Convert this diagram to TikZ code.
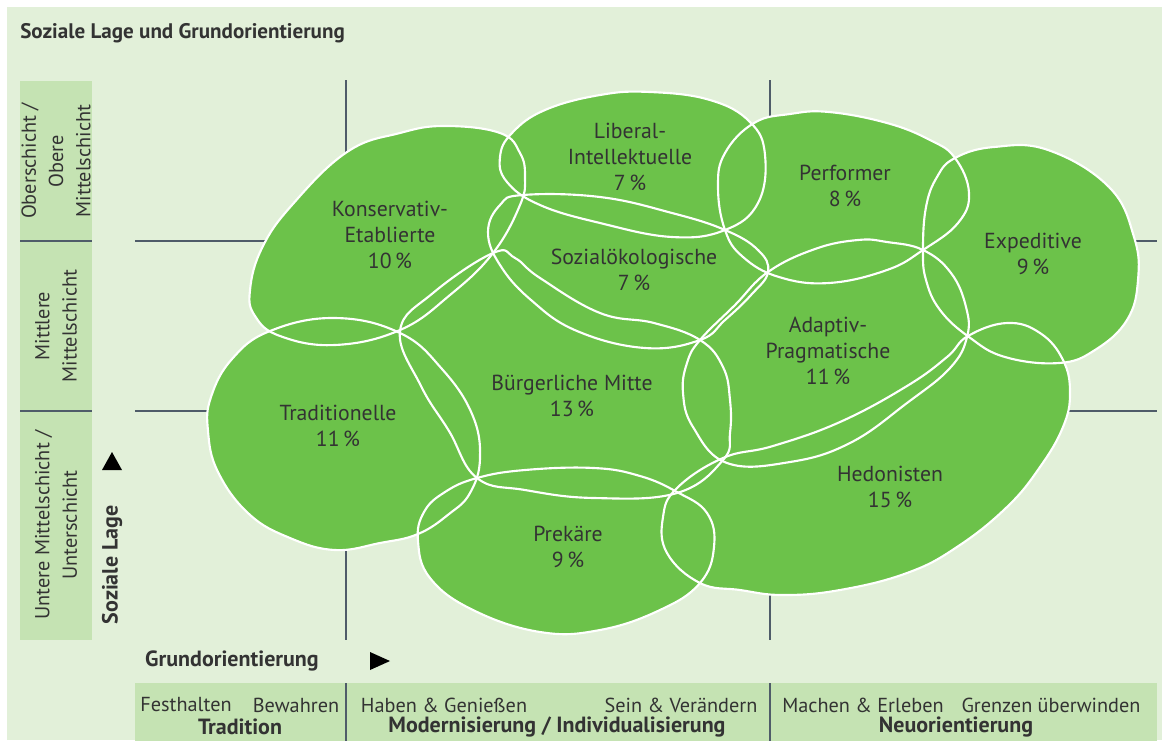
\documentclass[tikz,border=0pt]{standalone}
\usepackage{fontspec}
\setmainfont{PT Sans}
\definecolor{bg}{HTML}{E2F0D9}
\definecolor{panel}{HTML}{C5E3B3}
\definecolor{blobgreen}{HTML}{6CC24A}
\definecolor{txt}{HTML}{333333}
\definecolor{gridc}{HTML}{4F5C69}
\newcommand{\blobKE}[1]{\path[#1] plot[smooth cycle,tension=0.7] coordinates{(250,290) (262,248) (292,205) (347,152) (400,133) (445,126) (500,133) (520,153) (525,177) (520,205) (493,253) (450,295) (400,330) (335,345) (280,336) (255,316)};}
\newcommand{\blobLI}[1]{\path[#1] plot[smooth cycle,tension=0.7] coordinates{(500,157) (512,133) (545,110) (600,95) (650,92) (710,100) (750,122) (765,155) (758,203) (725,230) (672,237) (600,223) (540,205) (507,182)};}
\newcommand{\blobSO}[1]{\path[#1] plot[smooth cycle,tension=0.7] coordinates{(523,195) (600,197) (672,213) (725,230) (758,250) (768,272) (751,295) (725,320) (700,340) (645,348) (577,331) (531,300) (500,265) (488,232) (500,205)};}
\newcommand{\blobBM}[1]{\path[#1] plot[smooth cycle,tension=0.7] coordinates{(400,331) (433,293) (493,253) (515,258) (540,278) (600,313) (654,323) (700,340) (723,367) (730,400) (730,433) (723,460) (677,493) (594,498) (525,490) (477,478) (449,431) (421,386)};}
\newcommand{\blobTR}[1]{\path[#1] plot[smooth cycle,tension=0.7] coordinates{(270,331) (232,359) (211,397) (208,431) (218,472) (249,514) (290,538) (335,550) (380,543) (418,534) (449,514) (470,493) (480,458) (472,414) (442,369) (400,333) (335,318)};}
\newcommand{\blobPK}[1]{\path[#1] plot[smooth cycle,tension=0.7] coordinates{(477,478) (525,470) (594,468) (640,476) (677,492) (707,513) (714,547) (700,583) (660,610) (600,630) (540,632) (473,610) (430,578) (418,541) (424,512) (445,492)};}
\newcommand{\blobPF}[1]{\path[#1] plot[smooth cycle,tension=0.7] coordinates{(725,153) (754,123) (790,114) (829,112) (887,123) (930,140) (955,158) (969,193) (958,223) (923,250) (887,270) (829,283) (779,277) (743,257) (725,230) (718,187)};}
\newcommand{\blobEX}[1]{\path[#1] plot[smooth cycle,tension=0.7] coordinates{(937,177) (955,158) (994,147) (1048,150) (1109,187) (1134,237) (1138,280) (1127,320) (1095,350) (1059,363) (1005,357) (969,337) (940,310) (926,280) (923,250) (926,207)};}
\newcommand{\blobAP}[1]{\path[#1] plot[smooth cycle,tension=0.7] coordinates{(700,340) (735,305) (768,272) (815,249) (858,240) (887,242) (923,250) (951,273) (966,307) (967,337) (950,368) (907,403) (850,443) (790,462) (727,463) (693,427) (683,393) (687,363)};}
\newcommand{\blobHE}[1]{\path[#1] plot[smooth cycle,tension=0.7] coordinates{(677,488) (723,458) (773,446) (840,422) (907,386) (947,357) (968,336) (1007,323) (1040,333) (1063,360) (1070,393) (1063,427) (1040,467) (1007,507) (957,547) (907,573) (840,590) (783,595) (740,590) (700,583) (667,553) (663,517)};}
\begin{document}
\begin{tikzpicture}[x=0.75pt,y=-0.75pt,
  lbl/.style={font=\fontsize{16.3}{19.5}\selectfont, text=txt, align=center, inner sep=0pt},
  small/.style={font=\fontsize{15.2}{16.5}\selectfont, text=txt, align=center, inner sep=0pt},
  smallbold/.style={font=\bfseries\fontsize{16.5}{16.5}\selectfont, text=txt, align=center, inner sep=0pt},
  gridline/.style={draw=gridc, line width=1.5pt},
  divline/.style={draw=gridc, line width=0.8pt},
  blobfill/.style={fill=blobgreen},
  blobline/.style={draw=white, line width=1.6pt},
  tri/.style={fill=black}]
\useasboundingbox (0,0) rectangle (1162,740);
\fill[white] (0,0) rectangle (1162,740);
\fill[bg] (7,7) rectangle (1162,740);
% title
\node[font=\bfseries\fontsize{15.8}{16}\selectfont, text=txt, anchor=west, inner sep=0pt] (title) at (20,33) {Soziale Lage und Grundorientierung};
% grid
\coordinate (v1t) at (346,80); \coordinate (v1b) at (346,640);
\coordinate (v2t) at (770,80); \coordinate (v2b) at (770,640);
\coordinate (h1l) at (135,241); \coordinate (h1r) at (1157,241);
\coordinate (h2l) at (135,411); \coordinate (h2r) at (1157,411);
\draw[gridline] (v1t) -- (v1b);
\draw[gridline] (v2t) -- (v2b);
\draw[gridline] (h1l) -- (h1r);
\draw[gridline] (h2l) -- (h2r);
% blobs fill
\blobKE{blobfill}\blobLI{blobfill}\blobSO{blobfill}\blobBM{blobfill}\blobTR{blobfill}
\blobPK{blobfill}\blobPF{blobfill}\blobEX{blobfill}\blobAP{blobfill}\blobHE{blobfill}
% blob outlines
\blobKE{blobline}\blobLI{blobline}\blobSO{blobline}\blobBM{blobline}\blobTR{blobline}
\blobPK{blobline}\blobPF{blobline}\blobEX{blobline}\blobAP{blobline}\blobHE{blobline}
% labels
\node[lbl] (ke) at (390,235) {Konservativ-\\Etablierte\\10\,\%};
\node[lbl] (li) at (630,157) {Liberal-\\Intellektuelle\\7\,\%};
\node[lbl] (pf) at (845,186) {Performer\\8\,\%};
\node[lbl] (ex) at (1033,254) {Expeditive\\9\,\%};
\node[lbl] (so) at (634,270) {Sozialökologische\\7\,\%};
\node[lbl] (ap) at (828,351) {Adaptiv-\\Pragmatische\\11\,\%};
\node[lbl] (bm) at (572,396) {Bürgerliche Mitte\\13\,\%};
\node[lbl] (tr) at (338,426) {Traditionelle\\11\,\%};
\node[lbl] (he) at (890,487) {Hedonisten\\15\,\%};
\node[lbl] (pk) at (568,547) {Prekäre\\9\,\%};
% left panel
\fill[panel] (20,81) rectangle (92,640);
\coordinate (d1l) at (20,241); \coordinate (d1r) at (92,241);
\coordinate (d2l) at (20,411); \coordinate (d2r) at (92,411);
\draw[divline] (d1l) -- (d1r);
\draw[divline] (d2l) -- (d2r);
\node[small, rotate=90, font=\fontsize{15.2}{20.5}\selectfont] (ob) at (56,161) {Oberschicht /\\Obere\\Mittelschicht};
\node[small, rotate=90, font=\fontsize{15.2}{20.5}\selectfont] (mi) at (56,326) {Mittlere\\Mittelschicht};
\node[small, rotate=90, font=\fontsize{15.2}{20.5}\selectfont] (un) at (56,525) {Untere Mittelschicht /\\Unterschicht};
\node[smallbold, rotate=90] (sl) at (112,565) {Soziale Lage};
\fill[tri] (102,470) -- (122,470) -- (112,452) -- cycle;
% bottom
\node[smallbold] (go) at (232,661) {Grundorientierung};
\fill[tri] (370,652) -- (370,670) -- (390,661) -- cycle;
\fill[panel] (135,683) rectangle (1157,745);
\coordinate (b1t) at (346,683); \coordinate (b1b) at (346,745);
\coordinate (b2t) at (770,683); \coordinate (b2b) at (770,745);
\draw[divline] (b1t) -- (b1b);
\draw[divline] (b2t) -- (b2b);
\node[small] (fh) at (186,705) {Festhalten};
\node[small] (bw) at (296,705) {Bewahren};
\node[smallbold] (td) at (240,727) {Tradition};
\node[small] (hg) at (444,705) {Haben \& Genießen};
\node[small] (sv) at (681,705) {Sein \& Verändern};
\node[smallbold] (mo) at (557,727) {Modernisierung / Individualisierung};
\node[small] (me) at (863,705) {Machen \& Erleben};
\node[small] (gu) at (1051,705) {Grenzen überwinden};
\node[smallbold] (ne) at (956,727) {Neuorientierung};
\end{tikzpicture}
\end{document}
